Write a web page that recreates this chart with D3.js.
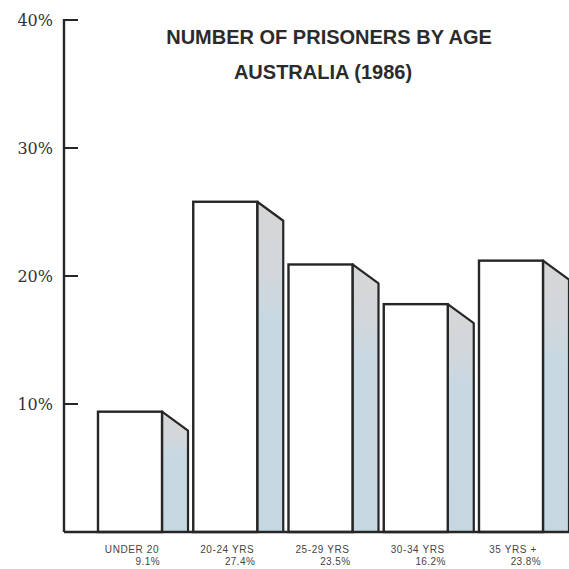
<!DOCTYPE html>
<html>
<head>
<meta charset="utf-8">
<script src="https://cdn.jsdelivr.net/npm/d3@7"></script>
<style>
  body { margin: 0; background: #fff; }
  svg { display: block; }
</style>
</head>
<body>
<svg id="chart" width="569" height="569"></svg>
<script>
// age groups and their share of prisoners
const ageGroups = ["UNDER 20", "20-24 YRS", "25-29 YRS", "30-34 YRS", "35 YRS +"];
const pctLabels = ["9.1%", "27.4%", "23.5%", "16.2%", "23.8%"];
// bar heights as drawn in the picture (percent)
const barHeights = [9.4, 25.8, 20.9, 17.8, 21.2];
const yTicks = [10, 20, 30, 40];

const svg = d3.select("#chart");
const ink = "#262626";

const y = d3.scaleLinear().domain([0, 40]).range([532, 20]);
const x = d3.scaleBand()
  .domain(ageGroups)
  .range([98, 543])
  .paddingInner(0.328)
  .paddingOuter(0);

// side face shading: grey at the top fading into pale blue
const defs = svg.append("defs");
const grad = defs.append("linearGradient")
  .attr("id", "side")
  .attr("x1", 0).attr("y1", 0).attr("x2", 0).attr("y2", 1);
grad.append("stop").attr("offset", "0%").attr("stop-color", "#d6d6d7");
grad.append("stop").attr("offset", "22%").attr("stop-color", "#d2d7db");
grad.append("stop").attr("offset", "35%").attr("stop-color", "#c8d8e2");
grad.append("stop").attr("offset", "100%").attr("stop-color", "#c6d7e2");

// title
svg.append("text")
  .attr("x", 329).attr("y", 44)
  .attr("text-anchor", "middle")
  .style("font-family", "'Liberation Sans', Arial, sans-serif")
  .style("font-weight", "bold")
  .style("font-size", "20px")
  .attr("fill", "#2b2b2b")
  .text("NUMBER OF PRISONERS BY AGE");
svg.append("text")
  .attr("x", 323).attr("y", 79)
  .attr("text-anchor", "middle")
  .style("font-family", "'Liberation Sans', Arial, sans-serif")
  .style("font-weight", "bold")
  .style("font-size", "20px")
  .attr("fill", "#2b2b2b")
  .text("AUSTRALIA (1986)");

// bars
const dx = 26, dy = 19;
const bars = svg.append("g").selectAll("g")
  .data(ageGroups)
  .enter()
  .append("g");

bars.append("path")
  .attr("d", function(d, i) {
    const x1 = x(d) + x.bandwidth();
    const top = y(barHeights[i]);
    return "M" + x1 + "," + top + "L" + (x1 + dx) + "," + (top + dy) +
      "L" + (x1 + dx) + "," + y(0) + "L" + x1 + "," + y(0) + "Z";
  })
  .attr("fill", "url(#side)")
  .attr("stroke", ink)
  .attr("stroke-width", 2.2)
  .attr("stroke-linejoin", "round");

bars.append("rect")
  .attr("x", d => x(d))
  .attr("y", (d, i) => y(barHeights[i]))
  .attr("width", x.bandwidth())
  .attr("height", (d, i) => y(0) - y(barHeights[i]))
  .attr("fill", "#fff")
  .attr("stroke", ink)
  .attr("stroke-width", 2.4);

// category labels
const labelFont = "'Liberation Sans', Arial, sans-serif";
bars.append("text")
  .attr("x", d => x(d) + x.bandwidth() / 2 + 2)
  .attr("y", 553)
  .attr("text-anchor", "middle")
  .style("font-family", labelFont)
  .style("font-size", "10px")
  .style("letter-spacing", "0.6px")
  .attr("fill", "#444")
  .text(d => d);
bars.append("text")
  .attr("x", d => x(d) + x.bandwidth() - 2)
  .attr("y", 565)
  .attr("text-anchor", "end")
  .style("font-family", labelFont)
  .style("font-size", "10px")
  .style("letter-spacing", "0.4px")
  .attr("fill", "#444")
  .text((d, i) => pctLabels[i]);

// y axis: line, ticks pointing inward, serif labels
const axis = svg.append("g");
axis.append("line")
  .attr("x1", 64).attr("x2", 64)
  .attr("y1", y(40) - 1).attr("y2", y(0))
  .attr("stroke", ink).attr("stroke-width", 2.4);
axis.append("line")
  .attr("x1", 64).attr("x2", 569)
  .attr("y1", y(0)).attr("y2", y(0))
  .attr("stroke", ink).attr("stroke-width", 2.4);
axis.selectAll(".tick")
  .data(yTicks)
  .enter()
  .append("line")
  .attr("x1", 64).attr("x2", 78)
  .attr("y1", d => y(d)).attr("y2", d => y(d))
  .attr("stroke", ink).attr("stroke-width", 2);
axis.selectAll(".tlabel")
  .data(yTicks)
  .enter()
  .append("text")
  .attr("x", 53)
  .attr("y", d => y(d) + 6)
  .attr("text-anchor", "end")
  .style("font-family", "'DejaVu Serif', serif")
  .style("font-size", "16px")
  .attr("fill", "#333")
  .text(d => d + "%");
</script>
</body>
</html>
